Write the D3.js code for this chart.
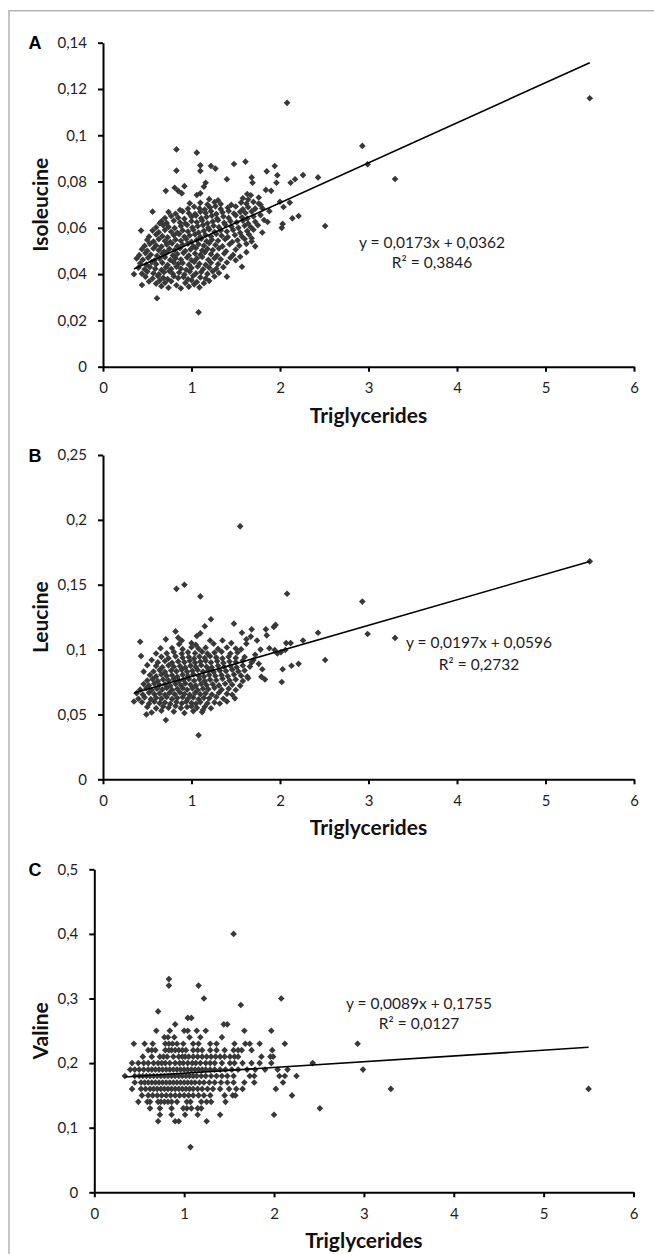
<!DOCTYPE html>
<html>
<head>
<meta charset="utf-8">
<script src="https://cdn.jsdelivr.net/npm/d3@7/dist/d3.min.js"></script>
<style>
    body { margin: 0; background: #ffffff; }
    svg { display: block; }
</style>
</head>
<body>
<div id="chart"></div>
<script>
// ---- values ----
const X_TICKS = [0, 1, 2, 3, 4, 5, 6];
const ISO_TICKS = [0, 0.02, 0.04, 0.06, 0.08, 0.1, 0.12, 0.14];
const LEU_TICKS = [0, 0.05, 0.1, 0.15, 0.2, 0.25];
const VAL_TICKS = [0, 0.1, 0.2, 0.3, 0.4, 0.5];

// linear fits printed on the chart: [slope, intercept]
const ISO_FIT = [0.0173, 0.0362];
const LEU_FIT = [0.0197, 0.0596];
const VAL_FIT = [0.0089, 0.1755];

const ISO_LABEL = ["y = 0,0173x + 0,0362", "R² = 0,3846"];
const LEU_LABEL = ["y = 0,0197x + 0,0596", "R² = 0,2732"];
const VAL_LABEL = ["y = 0,0089x + 0,1755", "R² = 0,0127"];

// A: triglycerides vs isoleucine  [tg, ile]
const ISO_POINTS = [
    [0.66,0.0348],[0.74,0.0341],[0.83,0.0352],[0.88,0.0339],[0.97,0.0346],[1.03,0.0356],[1.09,0.0343],[1.14,0.0361],
    [0.52,0.0368],[0.6,0.0359],[0.64,0.0372],[0.7,0.0363],[0.77,0.0369],[0.93,0.0362],[1.0,0.0374],[1.06,0.0366],[1.2,0.0371],
    [0.48,0.0389],[0.56,0.0381],[0.62,0.0392],[0.68,0.0384],[0.73,0.0379],[0.8,0.0391],[0.85,0.0383],[0.91,0.0388],[0.96,0.0378],[1.02,0.0393],[1.1,0.0386],[1.16,0.0381],[1.26,0.039],
    [0.44,0.0402],[0.5,0.0411],[0.57,0.0404],[0.63,0.0399],[0.69,0.0408],[0.75,0.0413],[0.79,0.0401],[0.86,0.0407],[0.92,0.0398],[0.98,0.0411],[1.05,0.0403],[1.11,0.0409],[1.18,0.0401],[1.24,0.0412],[1.31,0.0405],
    [0.4,0.0428],[0.47,0.0421],[0.53,0.0431],[0.59,0.0423],[0.66,0.0418],[0.71,0.0429],[0.77,0.0422],[0.83,0.0432],[0.88,0.0424],[0.94,0.0419],[1.0,0.0427],[1.07,0.0433],[1.13,0.0421],[1.2,0.0428],[1.28,0.0423],[1.36,0.043],
    [0.42,0.0447],[0.49,0.0441],[0.55,0.0452],[0.6,0.0443],[0.67,0.0449],[0.73,0.0439],[0.8,0.0451],[0.85,0.0444],[0.9,0.0448],[0.97,0.0441],[1.03,0.0453],[1.09,0.0445],[1.16,0.044],[1.22,0.0449],[1.3,0.0443],[1.4,0.045],
    [0.38,0.0468],[0.45,0.0462],[0.51,0.0471],[0.58,0.0459],[0.64,0.0467],[0.7,0.0473],[0.76,0.0461],[0.82,0.0469],[0.88,0.0463],[0.95,0.0472],[1.0,0.046],[1.06,0.0468],[1.12,0.0474],[1.19,0.0462],[1.26,0.0469],[1.33,0.0464],[1.44,0.0471],
    [0.41,0.0482],[0.48,0.0491],[0.54,0.0484],[0.61,0.0479],[0.67,0.0488],[0.72,0.0493],[0.79,0.0481],[0.84,0.0487],[0.91,0.0492],[0.97,0.048],[1.04,0.0489],[1.1,0.0483],[1.15,0.0494],[1.22,0.0486],[1.29,0.048],[1.37,0.0489],[1.47,0.0483],
    [0.44,0.0508],[0.5,0.0501],[0.57,0.0511],[0.63,0.0503],[0.69,0.0498],[0.75,0.0509],[0.81,0.0504],[0.87,0.0512],[0.93,0.05],[0.99,0.0507],[1.05,0.0513],[1.12,0.0502],[1.18,0.0509],[1.24,0.0504],[1.31,0.0511],[1.39,0.0499],[1.5,0.0506],
    [0.47,0.0522],[0.53,0.0531],[0.6,0.0524],[0.66,0.0519],[0.72,0.0528],[0.78,0.0533],[0.84,0.0521],[0.9,0.0527],[0.96,0.0532],[1.02,0.052],[1.08,0.0529],[1.14,0.0523],[1.2,0.0534],[1.27,0.0526],[1.35,0.052],[1.43,0.0529],[1.54,0.0523],[1.62,0.0531],
    [0.5,0.0548],[0.57,0.0541],[0.63,0.0551],[0.7,0.0543],[0.76,0.0539],[0.82,0.0549],[0.88,0.0544],[0.94,0.0552],[1.0,0.054],[1.06,0.0547],[1.11,0.0553],[1.17,0.0542],[1.23,0.0549],[1.3,0.0544],[1.38,0.0551],[1.46,0.0539],[1.52,0.0546],[1.6,0.0552],[1.68,0.0541],
    [0.52,0.0562],[0.6,0.0571],[0.67,0.0564],[0.73,0.0559],[0.8,0.0568],[0.86,0.0573],[0.92,0.0561],[0.98,0.0567],[1.04,0.0572],[1.1,0.056],[1.16,0.0569],[1.22,0.0563],[1.28,0.0574],[1.34,0.0566],[1.41,0.056],[1.49,0.0569],[1.57,0.0563],[1.65,0.0571],
    [0.56,0.0588],[0.63,0.0581],[0.7,0.0591],[0.77,0.0583],[0.84,0.0579],[0.9,0.0589],[0.96,0.0584],[1.02,0.0592],[1.08,0.058],[1.14,0.0587],[1.2,0.0593],[1.26,0.0582],[1.33,0.0589],[1.4,0.0584],[1.47,0.0591],[1.55,0.0579],[1.63,0.0586],[1.7,0.0592],
    [0.6,0.0602],[0.68,0.0611],[0.74,0.0604],[0.81,0.0599],[0.88,0.0608],[0.95,0.0613],[1.01,0.0601],[1.07,0.0607],[1.13,0.0612],[1.19,0.06],[1.25,0.0609],[1.31,0.0603],[1.38,0.0614],[1.45,0.0606],[1.53,0.06],[1.6,0.0609],[1.67,0.0603],[1.75,0.0611],
    [0.66,0.0628],[0.72,0.0621],[0.8,0.0631],[0.87,0.0623],[0.93,0.0619],[1.0,0.0629],[1.06,0.0624],[1.12,0.0632],[1.18,0.062],[1.24,0.0627],[1.3,0.0633],[1.37,0.0622],[1.44,0.0629],[1.51,0.0624],[1.58,0.0631],[1.64,0.0619],[1.72,0.0626],
    [0.7,0.0642],[0.77,0.0651],[0.85,0.0644],[0.92,0.0639],[1.0,0.0648],[1.05,0.0653],[1.11,0.0641],[1.17,0.0647],[1.23,0.0652],[1.29,0.064],[1.36,0.0649],[1.42,0.0643],[1.5,0.0654],[1.57,0.0646],[1.63,0.064],[1.7,0.0649],
    [0.74,0.0668],[0.82,0.0661],[0.9,0.0671],[0.97,0.0663],[1.04,0.0659],[1.1,0.0669],[1.16,0.0664],[1.22,0.0672],[1.28,0.066],[1.35,0.0667],[1.42,0.0673],[1.48,0.0662],[1.55,0.0669],[1.61,0.0664],[1.68,0.0671],
    [0.96,0.0682],[1.03,0.0691],[1.09,0.0684],[1.15,0.0679],[1.21,0.0688],[1.27,0.0693],[1.33,0.0681],[1.41,0.0687],[1.5,0.0692],[1.58,0.068],[1.64,0.0689],[1.72,0.0683],
    [1.1,0.0708],[1.18,0.0701],[1.26,0.0711],[1.33,0.0703],[1.45,0.0699],[1.56,0.0709],[1.62,0.0704],[1.7,0.0712],[1.78,0.07],
    [1.2,0.0724],[1.3,0.0719],[1.58,0.0728],[1.64,0.0722],[1.76,0.0731],[1.63,0.0746],[1.67,0.0741],
    // scattered points around the cloud
    [0.83,0.0939],[1.06,0.0925],[1.1,0.087],[1.1,0.0846],[1.22,0.0867],[1.27,0.0856],[1.48,0.0876],[1.61,0.0886],
    [1.94,0.0867],[0.83,0.0847],[1.85,0.0844],[1.68,0.0818],[1.97,0.0827],[2.26,0.0828],[2.43,0.0818],[2.17,0.081],
    [2.12,0.0795],[1.69,0.0795],[1.96,0.0795],[1.4,0.081],[1.16,0.0795],[0.71,0.076],[0.81,0.0773],[0.85,0.076],
    [0.89,0.0749],[0.92,0.078],[1.14,0.0778],[1.1,0.0749],[1.84,0.0764],[1.9,0.076],[2.0,0.0713],[2.04,0.069],
    [2.11,0.0709],[2.14,0.0641],[2.21,0.0651],[2.02,0.06],[2.03,0.0617],[2.51,0.0608],[1.82,0.0634],[1.68,0.0555],
    [1.57,0.0432],[1.4,0.0389],[1.08,0.0235],[0.61,0.0296],[0.35,0.04],[0.44,0.0353],[0.43,0.0588],[0.56,0.067],
    [0.64,0.062],[0.87,0.0677],[0.98,0.0706],[1.06,0.0742],[1.76,0.0705],[1.8,0.0685],[1.88,0.0672],[1.78,0.0655],
    [1.86,0.0625],[1.8,0.058],[1.72,0.052],[1.62,0.0495],[1.55,0.0475],[1.5,0.046],
    [5.5,0.116],[2.08,0.114],[2.93,0.0954],[2.99,0.0875],[3.3,0.0811]
];

// B: triglycerides vs leucine  [tg, leu]
const LEU_POINTS = [
    [0.55,0.0515],[0.66,0.0528],[0.8,0.0522],[0.92,0.0511],[1.02,0.0526],[1.12,0.0518],
    [0.5,0.0558],[0.6,0.0547],[0.68,0.0561],[0.74,0.0552],[0.82,0.0565],[0.88,0.0549],[0.95,0.0557],[1.0,0.0563],[1.06,0.0551],[1.15,0.0559],[1.22,0.0548],
    [0.44,0.0594],[0.52,0.0583],[0.58,0.0598],[0.64,0.0587],[0.7,0.0592],[0.76,0.0581],[0.83,0.0596],[0.89,0.0585],[0.94,0.0599],[1.0,0.0588],[1.05,0.0582],[1.1,0.0595],[1.18,0.0586],[1.26,0.0593],[1.32,0.0584],
    [0.4,0.0621],[0.47,0.0632],[0.54,0.0618],[0.6,0.0629],[0.66,0.0622],[0.72,0.0634],[0.78,0.0619],[0.84,0.0627],[0.9,0.0633],[0.96,0.062],[1.02,0.0631],[1.08,0.0617],[1.14,0.0628],[1.2,0.0624],[1.28,0.0635],[1.36,0.0621],
    [0.38,0.0664],[0.45,0.0653],[0.52,0.0668],[0.58,0.0657],[0.64,0.0662],[0.7,0.0651],[0.75,0.0666],[0.81,0.0655],[0.87,0.0669],[0.92,0.0658],[0.98,0.0652],[1.04,0.0665],[1.1,0.0656],[1.16,0.0663],[1.23,0.0654],[1.31,0.0667],[1.4,0.0659],[1.46,0.0652],
    [0.42,0.0691],[0.49,0.0702],[0.55,0.0688],[0.61,0.0699],[0.67,0.0692],[0.72,0.0704],[0.78,0.0689],[0.84,0.0697],[0.9,0.0703],[0.95,0.069],[1.01,0.0701],[1.07,0.0687],[1.13,0.0698],[1.19,0.0694],[1.26,0.0705],[1.34,0.0691],[1.42,0.0699],[1.5,0.0688],
    [0.46,0.0734],[0.52,0.0723],[0.58,0.0738],[0.64,0.0727],[0.7,0.0732],[0.76,0.0721],[0.82,0.0736],[0.88,0.0725],[0.93,0.0739],[0.99,0.0728],[1.05,0.0722],[1.11,0.0735],[1.17,0.0726],[1.24,0.0733],[1.31,0.0724],[1.38,0.0737],[1.46,0.0729],[1.55,0.0722],
    [0.5,0.0761],[0.56,0.0772],[0.62,0.0758],[0.68,0.0769],[0.74,0.0762],[0.8,0.0774],[0.86,0.0759],[0.91,0.0767],[0.97,0.0773],[1.03,0.076],[1.09,0.0771],[1.15,0.0757],[1.21,0.0768],[1.28,0.0764],[1.35,0.0775],[1.43,0.0761],[1.5,0.0769],[1.58,0.0758],
    [0.53,0.0804],[0.6,0.0793],[0.66,0.0808],[0.72,0.0797],[0.78,0.0802],[0.84,0.0791],[0.9,0.0806],[0.96,0.0795],[1.02,0.0809],[1.08,0.0798],[1.14,0.0792],[1.2,0.0805],[1.27,0.0796],[1.34,0.0803],[1.41,0.0794],[1.48,0.0807],[1.56,0.0799],[1.63,0.0792],
    [0.57,0.0831],[0.64,0.0842],[0.7,0.0828],[0.77,0.0839],[0.83,0.0832],[0.89,0.0844],[0.95,0.0829],[1.01,0.0837],[1.07,0.0843],[1.13,0.083],[1.19,0.0841],[1.25,0.0827],[1.32,0.0838],[1.39,0.0834],[1.46,0.0845],[1.53,0.0831],[1.6,0.0839],
    [0.6,0.0874],[0.67,0.0863],[0.74,0.0878],[0.8,0.0867],[0.87,0.0872],[0.93,0.0861],[0.99,0.0876],[1.05,0.0865],[1.11,0.0879],[1.17,0.0868],[1.23,0.0862],[1.3,0.0875],[1.37,0.0866],[1.44,0.0873],[1.51,0.0864],[1.58,0.0877],[1.66,0.0869],
    [0.62,0.0901],[0.7,0.0912],[0.78,0.0898],[0.85,0.0909],[0.92,0.0902],[0.98,0.0914],[1.04,0.0899],[1.1,0.0907],[1.16,0.0913],[1.22,0.09],[1.29,0.0911],[1.36,0.0897],[1.43,0.0908],[1.5,0.0904],[1.58,0.0915],[1.68,0.0901],
    [0.66,0.0944],[0.74,0.0933],[0.82,0.0948],[0.9,0.0937],[0.97,0.0942],[1.03,0.0931],[1.09,0.0946],[1.15,0.0935],[1.21,0.0949],[1.28,0.0938],[1.35,0.0932],[1.42,0.0945],[1.5,0.0936],[1.6,0.0943],
    [0.72,0.0971],[0.8,0.0982],[0.89,0.0968],[0.96,0.0979],[1.04,0.0972],[1.12,0.0984],[1.18,0.0969],[1.26,0.0977],[1.34,0.0983],[1.44,0.097],[1.52,0.0978],
    [0.78,0.1012],[0.9,0.1003],[1.0,0.1018],[1.08,0.1007],[1.16,0.1014],[1.3,0.1005],[1.4,0.1016],[1.5,0.1008],[1.56,0.1002],
    [0.86,0.1042],[1.05,0.1036],[1.25,0.1045],
    // scattered points around the cloud
    [0.83,0.1468],[0.92,0.15],[1.1,0.141],[2.08,0.143],[1.22,0.1234],[1.15,0.118],[1.1,0.1126],[1.06,0.1105],
    [1.48,0.12],[0.82,0.114],[0.85,0.1092],[0.89,0.107],[0.71,0.1079],[0.42,0.106],[0.43,0.095],[1.0,0.105],
    [1.21,0.107],[1.57,0.113],[1.62,0.108],[1.68,0.1156],[1.67,0.11],[1.74,0.107],[1.84,0.1156],[1.85,0.111],
    [1.95,0.119],[1.93,0.1175],[2.07,0.105],[2.12,0.105],[2.26,0.107],[2.43,0.113],[2.51,0.092],[2.13,0.0875],
    [2.03,0.0848],[2.21,0.089],[2.02,0.075],[1.8,0.0848],[1.83,0.077],[1.79,0.079],[1.64,0.0779],[1.94,0.0997],
    [1.97,0.097],[2.01,0.098],[2.06,0.0997],[1.49,0.0624],[1.4,0.06],[1.08,0.034],[0.71,0.0457],[0.49,0.05],
    [0.35,0.06],[1.13,0.0534],[1.72,0.096],[1.78,0.1],[1.88,0.101],[1.7,0.092],[1.76,0.089],[1.62,0.1045],
    [1.45,0.105],[1.35,0.107],[0.65,0.101],[0.6,0.097],[0.55,0.092],[0.5,0.088],[0.46,0.083],
    [1.55,0.195],[5.5,0.168],[2.93,0.137],[2.99,0.112],[3.3,0.109]
];

// C: valine is reported in steps of 0.01, so rows of [val, tg values]
const VAL_ROWS = [
    [0.40, [1.55]],
    [0.33, [0.83]],
    [0.32, [0.83, 1.16]],
    [0.30, [1.22, 2.08]],
    [0.29, [1.63]],
    [0.28, [0.71]],
    [0.27, [1.04, 1.08]],
    [0.26, [0.90, 1.44, 1.48]],
    [0.25, [0.69, 0.84, 1.0, 1.04, 1.14, 1.24, 1.67, 1.97]],
    [0.24, [0.78, 0.82, 0.89, 1.06, 1.18, 1.42]],
    [0.23, [0.44, 0.56, 0.65, 0.79, 0.83, 0.87, 0.92, 0.99, 1.1, 1.16, 1.29, 1.36, 1.56, 1.68, 1.73, 1.84, 2.12, 2.93]],
    [0.22, [0.6, 0.64, 0.68, 0.79, 0.83, 0.86, 0.9, 0.94, 0.98, 1.02, 1.1, 1.15, 1.2, 1.29, 1.36, 1.45, 1.55, 1.6, 1.64, 1.75, 1.98]],
    [0.21, [0.54, 0.64, 0.73, 0.77, 0.81, 0.88, 0.94, 0.98, 1.01, 1.05, 1.1, 1.15, 1.2, 1.25, 1.3, 1.35, 1.4, 1.45, 1.51, 1.56, 1.6, 1.86, 1.96, 1.99]],
    [0.20, [0.42, 0.49, 0.55, 0.6, 0.66, 0.71, 0.75, 0.79, 0.84, 0.9, 0.95, 0.99, 1.04, 1.09, 1.13, 1.18, 1.24, 1.29, 1.34, 1.42, 1.51, 1.56, 1.65, 1.75, 1.84, 1.97, 2.43]],
    [0.19, [0.4, 0.45, 0.5, 0.55, 0.6, 0.64, 0.68, 0.72, 0.76, 0.8, 0.84, 0.88, 0.92, 0.96, 1.0, 1.04, 1.08, 1.12, 1.16, 1.2, 1.24, 1.29, 1.34, 1.4, 1.46, 1.53, 1.6, 1.7, 1.79, 1.9, 2.04, 2.15, 2.99]],
    [0.18, [0.34, 0.45, 0.5, 0.54, 0.58, 0.62, 0.66, 0.7, 0.74, 0.78, 0.82, 0.86, 0.9, 0.94, 0.98, 1.02, 1.06, 1.1, 1.14, 1.19, 1.24, 1.3, 1.36, 1.42, 1.48, 1.55, 1.73, 1.78, 2.06, 2.12, 2.25]],
    [0.17, [0.45, 0.52, 0.56, 0.6, 0.64, 0.68, 0.72, 0.76, 0.8, 0.84, 0.88, 0.92, 0.96, 1.0, 1.04, 1.08, 1.12, 1.17, 1.22, 1.28, 1.34, 1.41, 1.48, 1.55, 1.67, 1.78, 2.1]],
    [0.16, [0.42, 0.52, 0.57, 0.62, 0.66, 0.7, 0.74, 0.78, 0.82, 0.86, 0.9, 0.94, 0.98, 1.02, 1.06, 1.1, 1.15, 1.2, 1.26, 1.32, 1.4, 1.5, 1.58, 1.65, 2.02, 3.3, 5.5]],
    [0.15, [0.53, 0.6, 0.65, 0.7, 0.75, 0.8, 0.85, 0.9, 0.95, 1.0, 1.05, 1.1, 1.16, 1.22, 1.29, 1.45, 1.54, 1.57, 2.2]],
    [0.14, [0.49, 0.59, 0.62, 0.71, 0.74, 0.78, 0.82, 0.86, 0.92, 1.03, 1.07, 1.19, 1.25, 1.3, 1.46]],
    [0.13, [0.62, 0.73, 0.86, 0.99, 1.03, 1.08, 1.15, 1.19, 2.51]],
    [0.12, [0.73, 0.86, 1.01, 1.15, 1.4, 2.0]],
    [0.11, [0.71, 0.9, 0.94, 1.25]],
    [0.07, [1.07]]
];
const VAL_POINTS = VAL_ROWS.flatMap(r => r[1].map(tg => [tg, r[0]]));

// ---- drawing ----
const SVG = d3.select("#chart")
                .append("svg")
                    .attr("width", 654)
                    .attr("height", 1254)
                    .attr("viewBox", "0 0 654 1254");

const FONT = "Lato, 'Open Sans', sans-serif";
const comma = d3.formatLocale({decimal: ",", thousands: ".", grouping: [3], currency: ["", ""]}).format("~g");
const diamond = d3.symbol().type(d3.symbolSquare).size(22); // rotated 45° below

// light frame of the figure, only the top and left edges are in the picture
SVG.append("path")
    .attr("d", "M9,1254V10.7H654")
    .attr("fill", "none")
    .attr("stroke", "#b4b4b4")
    .attr("stroke-width", 1.5);

const PANELS = [
    {letter: "A", title: "Isoleucine", points: ISO_POINTS, fit: ISO_FIT, label: ISO_LABEL, yTicks: ISO_TICKS,
     left: 103, right: 634, top: 42.7, bottom: 366.7, labelX: 432, labelY: 247.5, labelGap: 20.6},
    {letter: "B", title: "Leucine", points: LEU_POINTS, fit: LEU_FIT, label: LEU_LABEL, yTicks: LEU_TICKS,
     left: 103, right: 634, top: 455, bottom: 779.3, labelX: 479, labelY: 648.3, labelGap: 22},
    {letter: "C", title: "Valine", points: VAL_POINTS, fit: VAL_FIT, label: VAL_LABEL, yTicks: VAL_TICKS,
     left: 94.3, right: 633.5, top: 869.3, bottom: 1192.3, labelX: 419, labelY: 1009.3, labelGap: 20}
];

function drawPanel(p) {
    const x = d3.scaleLinear().domain([0, 6]).range([p.left, p.right]);
    const y = d3.scaleLinear().domain([0, p.yTicks[p.yTicks.length - 1]]).range([p.bottom, p.top]);
    const g = SVG.append("g");

    // the measurements
    g.append("g")
        .selectAll("path")
        .data(p.points)
        .enter()
        .append("path")
            .attr("d", diamond)
            .attr("transform", d => "translate(" + x(d[0]) + "," + y(d[1]) + ") rotate(45)")
            .attr("fill", "#383838");

    // trend line over the range of the data
    const ext = d3.extent(p.points, d => d[0]);
    g.append("line")
        .attr("x1", x(ext[0]))
        .attr("y1", y(p.fit[0] * ext[0] + p.fit[1]))
        .attr("x2", x(ext[1]))
        .attr("y2", y(p.fit[0] * ext[1] + p.fit[1]))
        .attr("stroke", "#000")
        .attr("stroke-width", 1.6);

    // axes
    const xAxis = g.append("g")
        .attr("transform", "translate(0," + p.bottom + ")")
        .call(d3.axisBottom(x).tickValues(X_TICKS).tickFormat(comma).tickSize(5).tickSizeOuter(0).tickPadding(11));
    const yAxis = g.append("g")
        .attr("transform", "translate(" + p.left + ",0)")
        .call(d3.axisLeft(y).tickValues(p.yTicks).tickFormat(comma).tickSize(5).tickSizeOuter(0).tickPadding(11));

    [xAxis, yAxis].forEach(a => {
        a.selectAll(".domain, .tick line")
            .attr("stroke", "#000")
            .attr("stroke-width", 2);
        a.selectAll("text")
            .attr("fill", "#1e1e1e")
            .style("font-family", FONT)
            .style("font-size", "15px");
    });

    // equation of the fit
    p.label.forEach((t, i) => {
        g.append("text")
            .attr("x", p.labelX)
            .attr("y", p.labelY + i * p.labelGap)
            .attr("text-anchor", "middle")
            .attr("fill", "#1e1e1e")
            .style("font-family", FONT)
            .style("font-size", "15.5px")
            .text(t);
    });

    // axis titles
    g.append("text")
        .attr("x", (p.left + p.right) / 2)
        .attr("y", p.bottom + 56)
        .attr("text-anchor", "middle")
        .attr("fill", "#111")
        .style("font-family", FONT)
        .style("font-weight", "bold")
        .style("font-size", "21px")
        .text("Triglycerides");

    g.append("text")
        .attr("transform", "translate(48," + (p.top + p.bottom) / 2 + ") rotate(-90)")
        .attr("text-anchor", "middle")
        .attr("fill", "#111")
        .style("font-family", FONT)
        .style("font-weight", "bold")
        .style("font-size", "21px")
        .text(p.title);

    // panel letter
    g.append("text")
        .attr("x", 35)
        .attr("y", p.top + 6.5)
        .attr("text-anchor", "middle")
        .attr("fill", "#000")
        .style("font-family", "'Liberation Sans', Arial, sans-serif")
        .style("font-weight", "bold")
        .style("font-size", "18px")
        .text(p.letter);
}

PANELS.forEach(drawPanel);
</script>
</body>
</html>
